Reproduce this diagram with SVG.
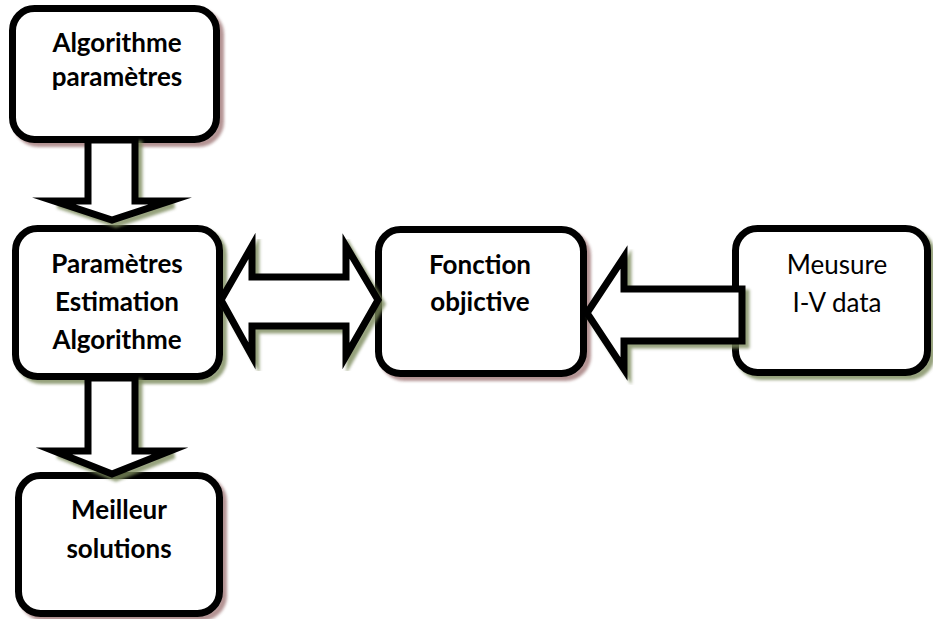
<svg xmlns="http://www.w3.org/2000/svg" width="933" height="619" viewBox="0 0 933 619">
<defs>
<filter id="blur" x="-10%" y="-10%" width="120%" height="120%"><feGaussianBlur stdDeviation="1.6"/></filter>
<style>
.box{fill:#fff;stroke:#000;stroke-width:7}
.arr{fill:#fff;stroke:#000;stroke-width:7;stroke-linejoin:miter;stroke-miterlimit:10}
.shr{fill:none;stroke:#a07878;stroke-width:7;filter:url(#blur);opacity:0.8}
.shg{fill:none;stroke:#7c8a5c;stroke-width:7;filter:url(#blur);opacity:0.8}
.tb{font-family:Lato,"Open Sans","Liberation Sans",sans-serif;font-weight:bold;font-size:26px;text-anchor:middle;fill:#000}
.tn{font-family:Lato,"Open Sans","Liberation Sans",sans-serif;font-size:26px;text-anchor:middle;fill:#000}
</style>
</defs>
<g id="nodes">
<g id="n1">
<rect class="shr" x="16.5" y="12.5" width="204" height="131" rx="22"/>
<rect class="box" x="12.5" y="8.5" width="204" height="131" rx="22"/>
<text class="tb" x="117" y="52">Algorithme</text>
<text class="tb" x="117" y="86">paramètres</text>
</g>
<g id="n2">
<rect class="shg" x="19.5" y="232.5" width="204" height="148" rx="22"/>
<rect class="box" x="15.5" y="228.5" width="204" height="148" rx="22"/>
<text class="tb" x="117" y="273">Paramètres</text>
<text class="tb" x="117" y="311">Estimation</text>
<text class="tb" x="117" y="349">Algorithme</text>
</g>
<g id="n3">
<rect class="shr" x="382.5" y="233.5" width="205" height="144" rx="22"/>
<rect class="box" x="378.5" y="229.5" width="205" height="144" rx="22"/>
<text class="tb" x="480" y="274">Fonction</text>
<text class="tb" x="480" y="311">objictive</text>
</g>
<g id="n4">
<rect class="shg" x="739.5" y="232.5" width="192" height="144" rx="22"/>
<rect class="box" x="735.5" y="228.5" width="192" height="144" rx="22"/>
<text class="tn" x="837" y="274">Meusure</text>
<text class="tn" x="837" y="312">I-V data</text>
</g>
<g id="n5">
<rect class="shr" x="22.5" y="479.5" width="201" height="138" rx="22"/>
<rect class="box" x="18.5" y="475.5" width="201" height="138" rx="22"/>
<text class="tb" x="119" y="519">Meilleur</text>
<text class="tb" x="119" y="558">solutions</text>
</g>
</g>
<g id="connectors">
<g transform="translate(4,4)">
<polygon class="shg" points="88,140 88,201 54,201 112,220 170,201 135,201 135,140"/>
<polygon class="shg" points="88,378 88,451 54,451 112,474 170,451 135,451 135,378"/>
<polygon class="shg" points="221,300 252,246 252,277 346,277 346,246 378,300 346,356 346,326 252,326 252,356"/>
<polygon class="shg" points="587,313 624,257 624,289 742,289 742,341 624,341 624,369"/>
</g>
<polygon class="arr" points="88,140 88,201 54,201 112,220 170,201 135,201 135,140"/>
<polygon class="arr" points="88,378 88,451 54,451 112,474 170,451 135,451 135,378"/>
<polygon class="arr" points="221,300 252,246 252,277 346,277 346,246 378,300 346,356 346,326 252,326 252,356"/>
<polygon class="arr" points="587,313 624,257 624,289 742,289 742,341 624,341 624,369"/>
</g>
</svg>
